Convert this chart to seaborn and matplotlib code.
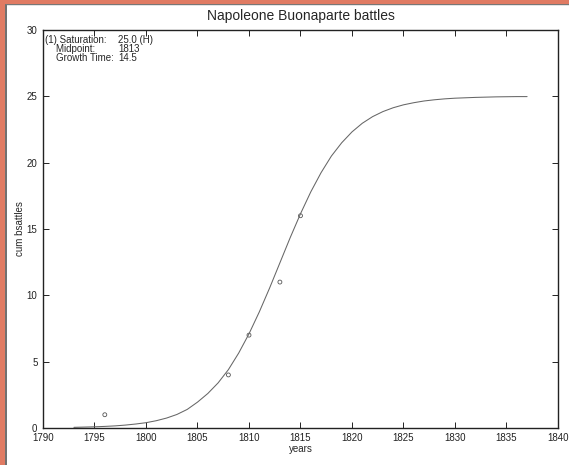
import matplotlib
matplotlib.use("Agg")
import matplotlib.pyplot as plt
import seaborn as sns
import pandas as pd
from matplotlib.patches import Rectangle
from matplotlib.lines import Line2D

# observed data points
obs_years = [1796, 1808, 1810, 1813, 1815]
obs_battles = [1, 4, 7, 11, 16]

# fitted curve values (one per year)
curve_years = list(range(1793, 1838))
curve_values = [0.05, 0.07, 0.09, 0.12, 0.16, 0.22, 0.30, 0.40, 0.55, 0.75,
                1.02, 1.40, 1.95, 2.60, 3.40, 4.40, 5.65, 7.10, 8.75, 10.55,
                12.45, 14.35, 16.15, 17.80, 19.25, 20.50, 21.50, 22.32, 22.97, 23.47,
                23.85, 24.14, 24.36, 24.52, 24.65, 24.74, 24.81, 24.86, 24.89, 24.92,
                24.94, 24.96, 24.97, 24.98, 24.98]

x_ticks = [1790, 1795, 1800, 1805, 1810, 1815, 1820, 1825, 1830, 1835, 1840]
y_ticks = [0, 5, 10, 15, 20, 25, 30]

title = "Napoleone Buonaparte battles"
xlabel = "years"
ylabel = "cum bsattles"
info_labels = ["(1) Saturation:", "    Midpoint:", "    Growth Time:"]
info_values = ["25.0 (H)", "1813", "14.5"]

sns.set_style("ticks")
plt.rcParams['font.family'] = ['Liberation Sans', 'DejaVu Sans']

fig = plt.figure(figsize=(5.69, 4.65), dpi=100)
fig.patch.set_facecolor("white")
ax = fig.add_axes([43/569, (465-428)/465, (558-43)/569, (428-30)/465])

curve_df = pd.DataFrame({"year": curve_years, "value": curve_values})
obs_df = pd.DataFrame({"year": obs_years, "value": obs_battles})

sns.lineplot(data=curve_df, x="year", y="value", ax=ax, color="#666666", linewidth=0.75)
sns.scatterplot(data=obs_df, x="year", y="value", ax=ax, marker="o", s=8,
                facecolor="none", edgecolor="#555555", linewidth=0.6)

ax.set_xlim(1790, 1840)
ax.set_ylim(0, 30)
ax.set_xticks(x_ticks)
ax.set_yticks(y_ticks)
ax.set_xticklabels([str(t) for t in x_ticks])
ax.set_yticklabels([str(t) for t in y_ticks])
ax.tick_params(direction="in", length=4, width=0.7, labelsize=7, top=True, right=True,
               colors="#222222")
ax.tick_params(axis="x", pad=3.5)
ax.tick_params(axis="y", pad=4)
for s in ax.spines.values():
    s.set_visible(True)
    s.set_linewidth(1.0)
    s.set_color("#222222")

ax.set_xlabel(xlabel, fontsize=7, labelpad=1)
ax.set_ylabel(ylabel, fontsize=7, labelpad=1)
ax.set_title(title, fontsize=10, pad=7)

for i, (lab, val) in enumerate(zip(info_labels, info_values)):
    y = 0.988 - i * 0.0235
    ax.text(0.004, y, lab, transform=ax.transAxes, fontsize=7, va="top", ha="left")
    ax.text(0.146, y, val, transform=ax.transAxes, fontsize=7, va="top", ha="left")

# orange window border (left and top)
border = "#E07B63"
fig.patches.append(Rectangle((0, 0), 5/569, 1, transform=fig.transFigure,
                             facecolor=border, edgecolor="none", zorder=10))
fig.patches.append(Rectangle((0, 1 - 4/465), 1, 4/465, transform=fig.transFigure,
                             facecolor=border, edgecolor="none", zorder=10))
fig.lines.append(Line2D([5.5/569, 5.5/569], [0, 1 - 4/465], transform=fig.transFigure,
                        color="#555555", linewidth=1.2))
fig.lines.append(Line2D([5/569, 1], [1 - 4.5/465, 1 - 4.5/465], transform=fig.transFigure,
                        color="#777777", linewidth=1.0))

fig.savefig("out.png", dpi=100, facecolor="white")
